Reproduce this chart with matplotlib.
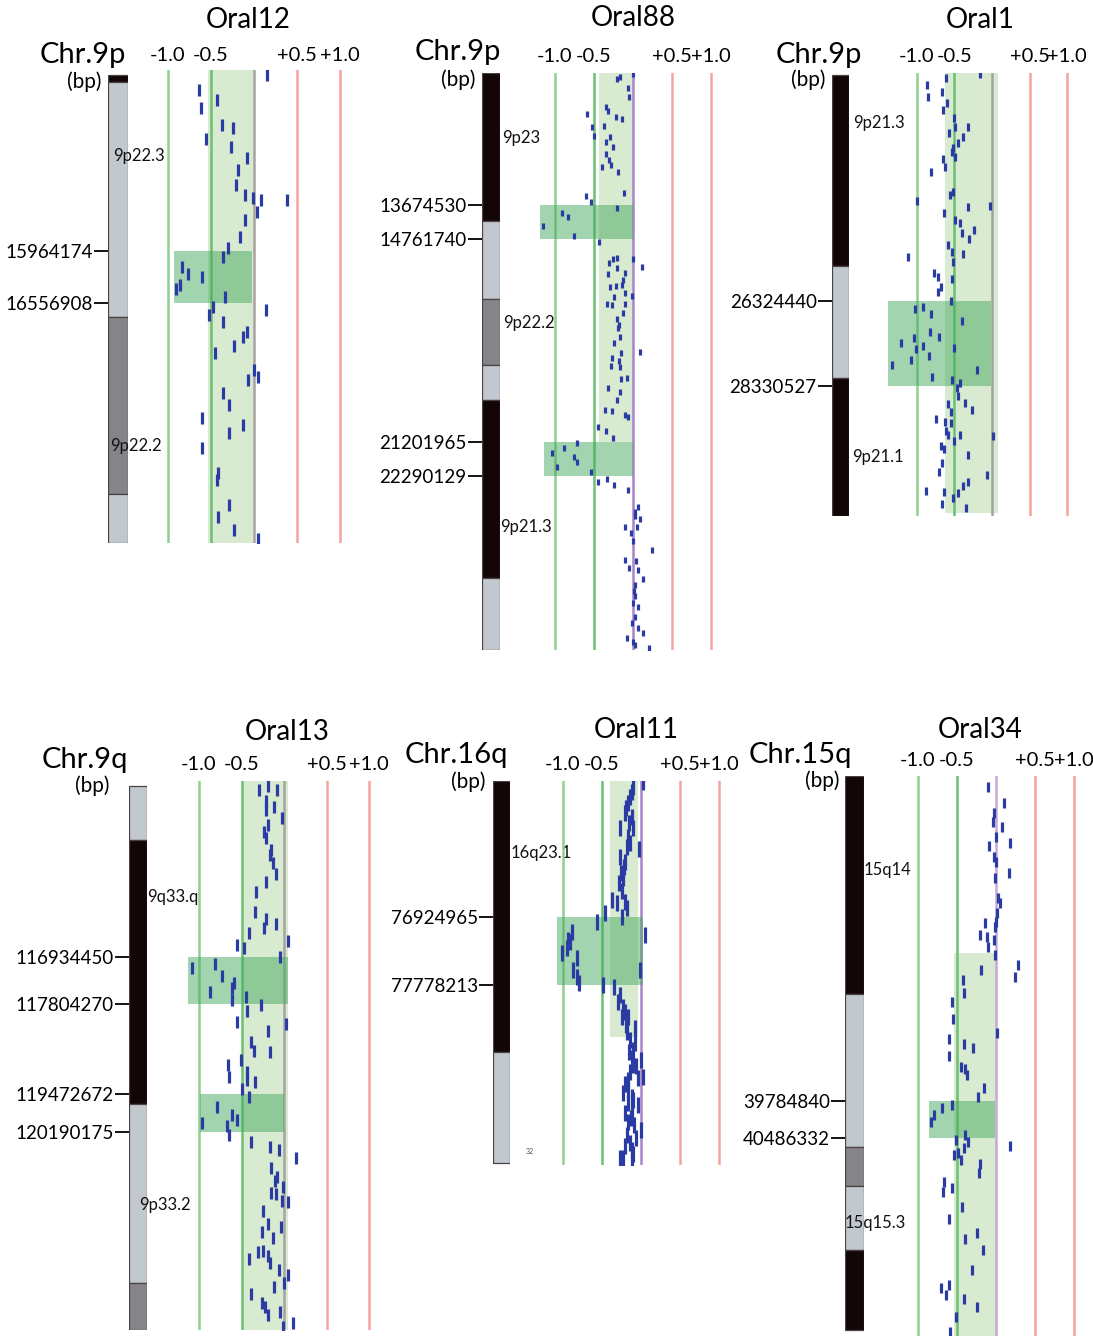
import matplotlib.pyplot as plt

plt.rcParams['font.family'] = ['Lato', 'DejaVu Sans']

W, H = 1093, 1336

# ---------------- data ----------------
# log2 ratio of each probe and its position (Mb)

oral12_ratio = [0.15, -0.64, -0.43, -0.62, -0.37, -0.24, -0.56, -0.27, -0.08, -0.19,
                -0.21, -0.10, -0.01, 0.08, 0.38, 0.03, -0.10, -0.16, -0.30, -0.36,
                -0.84, -0.77, -0.60, -0.91, -0.86, -0.34, -0.48, -0.52, 0.14, -0.36,
                -0.08, -0.13, -0.23, -0.45, 0.00, 0.05, -0.07, -0.36, -0.29, -0.60,
                -0.13, -0.29, -0.60, -0.42, -0.43, -0.29, -0.42, -0.23, 0.05]
oral12_pos = [13.96, 14.13, 14.24, 14.33, 14.53, 14.56, 14.69, 14.78, 14.90, 15.04,
              15.21, 15.33, 15.36, 15.38, 15.38, 15.52, 15.61, 15.80, 15.93, 16.03,
              16.15, 16.22, 16.26, 16.39, 16.35, 16.49, 16.60, 16.69, 16.64, 16.77,
              16.89, 16.94, 17.04, 17.12, 17.32, 17.40, 17.43, 17.58, 17.72, 17.86,
              17.95, 18.04, 18.21, 18.49, 18.57, 18.86, 18.99, 19.14, 19.24]

oral88_ratio = [0.00, -0.21, -0.17, -0.06, -0.05, -0.59, -0.35, -0.32, -0.22, -0.14,
                -0.53, -0.37, -0.50, -0.29, -0.35, -0.26, -0.35, -0.31, -0.28, -0.40,
                -0.19, -0.12, -0.60, -0.54, -0.21, -0.91, -0.83, -1.15, -0.76, -0.44,
                -0.21, -0.26, -0.31, 0.00, 0.12, -0.21, -0.32, -0.10, -0.13, -0.29,
                -0.22, -0.14, -0.10, -0.24, -0.01, -0.33, -0.27, -0.10, -0.13, -0.21,
                -0.18, -0.19, -0.17, -0.24, 0.09, -0.15, -0.27, -0.18, -0.28, -0.17,
                -0.15, -0.08, -0.32, -0.17, -0.21, -0.36, -0.27, -0.10, -0.06, -0.45,
                -0.35, -0.26, -0.72, -0.88, -1.04, -0.76, -0.72, -0.97, -0.54, -0.45,
                -0.33, -0.24, -0.06, 0.03, 0.06, 0.09, -0.10, 0.05, 0.00, 0.24,
                -0.10, -0.05, 0.06, 0.13, 0.03, 0.00, 0.06, 0.03, 0.06, 0.13,
                -0.08, 0.00, 0.21, 0.02, -0.02, 0.04, 0.01, 0.03, -0.01, 0.02]
oral88_pos = [9.51, 9.67, 9.61, 9.95, 10.24, 10.78, 10.56, 10.69, 10.88, 10.94,
              11.19, 11.16, 11.48, 11.51, 11.67, 11.83, 12.05, 12.24, 12.40, 12.47,
              12.63, 13.29, 13.39, 13.58, 13.77, 13.93, 14.06, 14.34, 14.66, 14.85,
              15.36, 15.39, 15.52, 15.39, 15.65, 15.68, 15.87, 15.84, 16.06, 16.28,
              16.25, 16.22, 16.47, 16.60, 16.57, 16.82, 16.85, 16.82, 17.11, 17.30,
              17.49, 17.58, 17.87, 18.06, 18.35, 18.38, 18.54, 18.63, 18.79, 18.82,
              19.21, 19.17, 19.49, 19.62, 19.87, 20.19, 20.22, 20.35, 20.41, 20.73,
              20.86, 21.08, 21.24, 21.40, 21.56, 21.69, 21.84, 22.00, 22.16, 22.48,
              22.39, 22.58, 22.74, 23.43, 23.28, 23.66, 23.91, 23.91, 24.36, 24.64,
              24.96, 25.21, 25.28, 25.56, 25.75, 26.33, 26.45, 26.77, 27.12, 27.28,
              27.44, 27.57, 27.76, 23.55, 24.10, 25.00, 25.95, 26.10, 26.95, 27.66]

oral1_ratio = [-0.16, -0.87, -0.61, -0.85, -0.67, -0.60, -0.65, -0.51, -0.32, -0.49,
               -0.57, -0.39, -0.45, -0.52, -0.53, -0.49, -0.65, -0.63, -0.81, -0.52,
               -0.56, -1.00, -0.03, -0.32, -0.64, -0.49, -0.43, -0.24, -0.40, -0.31,
               -0.59, -0.53, -0.39, -1.12, -0.52, -0.77, -0.72, -0.53, -0.68, -0.72,
               -0.55, -1.03, -0.92, -0.81, -0.40, -0.83, -0.71, -1.04, -1.21, -0.92,
               -1.01, -0.51, -0.84, -1.08, -1.33, -0.20, -0.80, -0.53, -0.43, -0.47,
               -0.45, -0.59, -0.36, -0.55, -0.27, -0.75, -0.63, -0.55, -0.61, -0.59,
               -0.43, 0.01, -0.51, -0.68, -0.64, -0.32, -0.67, -0.71, -0.07, -0.32,
               -0.39, -0.88, -0.64, -0.45, -0.52, -0.67, -0.35]
oral1_pos = [20.97, 21.23, 21.06, 21.51, 21.39, 21.65, 21.82, 22.01, 22.22, 22.22,
             22.36, 22.45, 22.60, 22.71, 22.81, 22.93, 22.97, 23.16, 23.28, 23.75,
             23.82, 23.96, 24.08, 24.11, 24.25, 24.41, 24.48, 24.65, 24.72, 24.86,
             25.00, 25.17, 25.22, 25.29, 25.40, 25.66, 25.76, 25.80, 25.99, 26.11,
             26.32, 26.51, 26.46, 26.63, 26.80, 27.06, 27.17, 27.20, 27.32, 27.39,
             27.46, 27.43, 27.62, 27.72, 27.84, 27.95, 28.12, 28.19, 28.26, 28.38,
             28.57, 28.76, 28.73, 28.94, 28.90, 29.11, 29.18, 29.20, 29.39, 29.49,
             29.49, 29.51, 29.63, 29.75, 29.82, 29.96, 30.15, 30.36, 30.43, 30.60,
             30.69, 30.81, 30.83, 30.86, 30.97, 31.11, 31.21]

oral13_ratio = [-0.29, -0.19, -0.08, -0.21, -0.21, -0.12, -0.02, -0.19, -0.24, -0.21,
                -0.15, -0.16, -0.13, -0.09, -0.21, -0.33, -0.34, -0.21, -0.09, -0.24,
                -0.41, 0.05, -0.55, -0.47, -0.05, -1.08, -0.81, -0.73, -0.87, -0.61,
                -0.59, -0.61, -0.45, -0.27, -0.44, -0.55, 0.02,
                -0.19, -0.39, -0.35, -0.16, -0.51, -0.66, -0.65, -0.44, -0.44, -0.34,
                -0.49, -0.41, -0.79, -0.61, -0.96, -0.55, -0.67, -0.65, -0.39, -0.16,
                -0.06, 0.14, -0.15, -0.08, -0.11, -0.01, -0.15, -0.09, -0.02, 0.05,
                -0.25, -0.19, -0.04, -0.26, -0.13, -0.31, -0.25, -0.19, -0.41, -0.16,
                -0.06, 0.05, -0.12, 0.00, -0.39, -0.26, -0.22, -0.19, -0.05, -0.01, 0.11]
oral13_pos = [113.83, 113.75, 113.83, 114.03, 114.20, 114.14, 114.35, 114.48, 114.61, 114.72,
              114.94, 115.03, 115.18, 115.39, 115.54, 115.72, 116.09, 116.22, 116.32, 116.39,
              116.49, 116.63, 116.71, 116.76, 116.93, 117.14, 117.06, 117.28, 117.58, 117.51,
              117.42, 117.73, 117.68, 117.82, 117.94, 118.14, 118.18,
              118.31, 118.51, 118.68, 118.70, 118.85, 118.94, 119.16, 119.07, 119.22, 119.26,
              119.39, 119.54, 119.72, 119.87, 120.02, 119.96, 120.07, 120.24, 120.37, 120.47,
              120.52, 120.67, 120.86, 121.02, 121.10, 121.21, 121.32, 121.34, 121.47, 121.49,
              121.66, 121.90, 121.95, 122.05, 122.16, 122.42, 122.40, 122.49, 122.55, 122.62,
              122.75, 122.85, 123.07, 123.00, 123.20, 123.37, 123.44, 123.59, 123.53, 123.81, 123.74]

oral11_ratio = [0.03, -0.10, -0.14, -0.17, -0.19, -0.12, -0.27, -0.10, -0.17, -0.14,
                -0.03, -0.27, -0.21, -0.26, -0.23, -0.28, -0.37, -0.31, -0.21, -0.18,
                -0.46, -0.56, -0.24, -0.88, -0.94, 0.05, -1.01, -0.95, -0.91, -0.82,
                -0.87, -0.82, -0.79, -0.01, -0.49, -0.35, -0.27, -0.29, -0.23, -0.21,
                -0.24, -0.17, -0.19, -0.08, -0.18, -0.14, -0.10, -0.12, 0.00, -0.10,
                -0.14, 0.03, -0.04, -0.17, -0.17, -0.23, -0.12, -0.17, -0.04, -0.21,
                -0.12, -0.17, -0.09, 0.00, -0.18, -0.14, -0.12, -0.27, -0.23, -0.12,
                -0.08, -0.15, -0.06, -0.20, -0.10, -0.13, -0.07, -0.20, -0.10,
                -0.12, -0.20, -0.15, -0.22, -0.25, -0.18]
oral11_pos = [75.23, 75.29, 75.42, 75.49, 75.56, 75.67, 75.81, 75.81, 75.92, 75.99,
              76.07, 76.17, 76.23, 76.37, 76.44, 76.50, 76.71, 76.75, 76.74, 76.81,
              76.87, 76.99, 76.93, 77.11, 77.21, 77.15, 77.38, 77.31, 77.24, 77.44,
              77.59, 77.68, 77.75, 77.59, 77.78, 77.80, 77.90, 77.99, 78.05, 78.12,
              78.18, 78.18, 78.28, 78.32, 78.37, 78.47, 78.59, 78.69, 78.72, 78.78,
              78.87, 78.93, 78.95, 78.97, 79.10, 79.13, 79.18, 79.26, 79.28, 79.38,
              79.37, 79.50, 79.53, 79.60, 79.66, 79.76, 79.85, 79.95, 79.95, 79.97,
              78.50, 78.62, 78.80, 79.02, 79.22, 79.45, 79.70, 79.80, 79.90,
              75.35, 75.62, 75.75, 76.30, 76.60, 76.05]

oral34_ratio = [-0.10, 0.10, -0.03, -0.04, 0.08, 0.00, -0.09, 0.18, -0.03, 0.00,
                0.17, -0.01, 0.03, 0.05, 0.01, 0.00, -0.14, -0.01, -0.21, -0.12,
                -0.03, -0.10, -0.01, 0.28, -0.19, 0.24, -0.42, -0.41, -0.56, -0.55,
                0.01, -0.60, -0.41, -0.29, -0.60, -0.45, -0.40, -0.37, -0.15, -0.23,
                -0.56, -0.69, -0.79, -0.83, -0.40, -0.51, -0.36, 0.18, -0.41, -0.54,
                -0.49, -0.45, -0.21, -0.22, -0.67, -0.68, -0.56, -0.44, -0.60, -0.40,
                -0.24, -0.17, -0.31, -0.71, -0.60, -0.64, -0.41, -0.24, -0.51, -0.59]
oral34_pos = [33.83, 34.14, 34.33, 34.50, 34.59, 34.78, 34.95, 34.89, 35.16, 35.25,
              35.46, 35.56, 35.94, 36.03, 36.22, 36.39, 36.41, 36.49, 36.64, 36.68,
              36.73, 36.86, 37.02, 37.21, 37.30, 37.43, 37.49, 37.74, 37.91, 38.23,
              38.50, 38.61, 38.70, 38.78, 38.93, 39.14, 39.18, 39.29, 39.54, 39.71,
              39.86, 39.92, 40.05, 40.18, 40.43, 40.52, 40.56, 40.64, 40.68, 40.81,
              40.77, 40.90, 40.98, 41.15, 41.32, 41.51, 41.43, 41.79, 42.02, 42.40,
              42.29, 42.61, 42.99, 43.33, 43.27, 43.46, 43.54, 43.69, 43.88, 44.16]

# cytobands (Mb)
oral12_band_edges = [13.96, 14.04, 16.71, 18.73, 19.29]
oral12_band_stain = ['gpos100', 'gneg', 'gpos75', 'gneg']
oral88_band_edges = [9.48, 14.18, 16.66, 18.75, 19.88, 25.53, 27.82]
oral88_band_stain = ['gpos100', 'gneg', 'gpos75', 'gneg', 'gpos100', 'gneg']
oral1_band_edges = [20.99, 25.50, 28.14, 31.40]
oral1_band_stain = ['gpos100', 'gneg', 'gpos100']
oral13_band_edges = [113.75, 114.76, 119.67, 123.00, 123.87]
oral13_band_stain = ['gneg', 'gpos100', 'gneg', 'gpos75']
oral11_band_edges = [75.22, 78.62, 80.01]
oral11_band_stain = ['gpos100', 'gneg']
oral34_band_edges = [33.62, 37.76, 40.66, 41.40, 42.61, 44.13]
oral34_band_stain = ['gpos100', 'gneg', 'gpos75', 'gneg', 'gpos100']

oral12_band_names = ['9p22.3', '9p22.2']
oral12_band_label_pos = [14.88, 18.19]
oral88_band_names = ['9p23', '9p22.2', '9p21.3']
oral88_band_label_pos = [11.54, 17.43, 23.91]
oral1_band_names = ['9p21.3', '9p21.1']
oral1_band_label_pos = [22.12, 30.01]
oral13_band_names = ['9q33.q', '9p33.2']
oral13_band_label_pos = [115.82, 121.54]
oral11_band_names = ['16q23.1']
oral11_band_label_pos = [76.12]
oral34_band_names = ['15q14', '15q15.3']
oral34_band_label_pos = [35.41, 42.10]

# breakpoints (bp), in pairs bounding the deleted region
oral12_breaks = [15964174, 16556908]
oral88_breaks = [13674530, 14761740, 21201965, 22290129]
oral1_breaks = [26324440, 28330527]
oral13_breaks = [116934450, 117804270, 119472672, 120190175]
oral11_breaks = [76924965, 77778213]
oral34_breaks = [39784840, 40486332]

# ratio span of each highlighted region
oral12_region_ratio = [(-0.93, -0.02)]
oral88_region_ratio = [(-1.28, 0.0), (-1.14, 0.0)]
oral1_region_ratio = [(-1.39, -0.01)]
oral13_region_ratio = [(-1.13, 0.05), (-0.99, 0.0)]
oral11_region_ratio = [(-1.08, 0.03)]
oral34_region_ratio = [(-0.86, -0.01)]

# shaded normal range: ratio low, ratio high, start Mb, end Mb
oral12_normal = (-0.535, 0.0, 13.90, 19.29)
oral88_normal = (-0.44, 0.0, 9.48, 21.20)
oral1_normal = (-0.63, 0.08, 20.94, 31.33)
oral13_normal = (-0.49, 0.05, 113.66, 123.87)
oral11_normal = (-0.40, -0.04, 75.22, 78.43)
oral34_normal = (-0.54, 0.0, 36.98, 44.24)

thresholds = [-1.0, -0.5, 0.0, 0.5, 1.0]
threshold_labels = ['-1.0', '-0.5', '', '+0.5', '+1.0']

panels = [
    dict(title='Oral12', chrom='Chr.9p', ratio=oral12_ratio, pos=oral12_pos,
         edges=oral12_band_edges, stain=oral12_band_stain, names=oral12_band_names,
         name_pos=oral12_band_label_pos, breaks=oral12_breaks,
         region=oral12_region_ratio, normal=oral12_normal),
    dict(title='Oral88', chrom='Chr.9p', ratio=oral88_ratio, pos=oral88_pos,
         edges=oral88_band_edges, stain=oral88_band_stain, names=oral88_band_names,
         name_pos=oral88_band_label_pos, breaks=oral88_breaks,
         region=oral88_region_ratio, normal=oral88_normal),
    dict(title='Oral1', chrom='Chr.9p', ratio=oral1_ratio, pos=oral1_pos,
         edges=oral1_band_edges, stain=oral1_band_stain, names=oral1_band_names,
         name_pos=oral1_band_label_pos, breaks=oral1_breaks,
         region=oral1_region_ratio, normal=oral1_normal),
    dict(title='Oral13', chrom='Chr.9q', ratio=oral13_ratio, pos=oral13_pos,
         edges=oral13_band_edges, stain=oral13_band_stain, names=oral13_band_names,
         name_pos=oral13_band_label_pos, breaks=oral13_breaks,
         region=oral13_region_ratio, normal=oral13_normal),
    dict(title='Oral11', chrom='Chr.16q', ratio=oral11_ratio, pos=oral11_pos,
         edges=oral11_band_edges, stain=oral11_band_stain, names=oral11_band_names,
         name_pos=oral11_band_label_pos, breaks=oral11_breaks,
         region=oral11_region_ratio, normal=oral11_normal),
    dict(title='Oral34', chrom='Chr.15q', ratio=oral34_ratio, pos=oral34_pos,
         edges=oral34_band_edges, stain=oral34_band_stain, names=oral34_band_names,
         name_pos=oral34_band_label_pos, breaks=oral34_breaks,
         region=oral34_region_ratio, normal=oral34_normal),
]

# ---------------- layout (pixels) ----------------
layout = {
    'Oral12': dict(ideo=(108, 128), data=(160, 350), rows=(70, 543), ylim=(19.29, 13.90),
                   xlim=(-1.093, 1.116), title=(248, 20), chrom=(83, 55), bp=(84, 82),
                   name_x=[0.25, 0.1], ms=9, pad=4, zero='#aaa2a2'),
    'Oral88': dict(ideo=(482, 500), data=(540, 720), rows=(73, 650), ylim=(27.82, 9.478),
                   xlim=(-1.192, 1.115), title=(633, 18), chrom=(458, 52), bp=(458, 80),
                   name_x=[1.11, 1.17, 1.0], ms=5, pad=6, zero='#a884c8'),
    'Oral1': dict(ideo=(832, 849), data=(880, 1080), rows=(73, 516), ylim=(31.40, 20.94),
                  xlim=(-1.493, 1.173), title=(980, 20), chrom=(819, 55), bp=(808, 80),
                  name_x=[1.24, 1.18], ms=6, pad=6, zero='#a8a0a0'),
    'Oral13': dict(ideo=(129, 147), data=(180, 380), rows=(781, 1330), ylim=(123.87, 113.66),
                   xlim=(-1.224, 1.129), title=(287, 732), chrom=(85, 760), bp=(92, 786),
                   name_x=[1.0, 0.56], ms=9, pad=6, zero='#aaa2a2'),
    'Oral11': dict(ideo=(493, 510), data=(545, 730), rows=(781, 1165), ylim=(80.037, 75.218),
                   xlim=(-1.231, 1.141), title=(636, 730), chrom=(456, 755), bp=(468, 782),
                   name_x=[1.06], ms=11, pad=6, zero='#a884c8'),
    'Oral34': dict(ideo=(845, 864), data=(900, 1085), rows=(776, 1336), ylim=(44.24, 33.62),
                   xlim=(-1.231, 1.141), title=(980, 730), chrom=(800, 755), bp=(822, 781),
                   name_x=[1.0, 0.0], ms=7, pad=5, zero='#c8a8d8'),
}

stain_color = {'gpos100': '#130607', 'gneg': '#c1c8ce', 'gpos75': '#858589'}
line_colors = ['#8fd08f', '#6cc070', None, '#f5a49d', '#f5a49d']

fig = plt.figure(figsize=(W / 100, H / 100), dpi=100)


def px_axes(x0, x1, y0, y1):
    return fig.add_axes([x0 / W, 1 - y1 / H, (x1 - x0) / W, (y1 - y0) / H])


def fig_text(xy, s, **kw):
    fig.text(xy[0] / W, 1 - xy[1] / H, s, ha='center', va='center', **kw)


for p in panels:
    lay = layout[p['title']]
    y0, y1 = lay['rows']

    # ideogram
    ax_i = px_axes(lay['ideo'][0], lay['ideo'][1], y0, y1)
    for s, e, st in zip(p['edges'][:-1], p['edges'][1:], p['stain']):
        ax_i.bar(0.5, e - s, bottom=s, width=1, color=stain_color[st],
                 edgecolor='#4a4242', linewidth=0.9)
    ax_i.set_xlim(0, 1)
    ax_i.set_ylim(*lay['ylim'])
    ax_i.set_yticks([b / 1e6 for b in p['breaks']])
    ax_i.set_yticklabels([str(b) for b in p['breaks']])
    ax_i.tick_params(axis='y', length=10, width=1.3, labelsize=13.5, pad=1)
    ax_i.set_xticks([])
    for sp in ax_i.spines.values():
        sp.set_visible(False)
    for name, pos, nx in zip(p['names'], p['name_pos'], lay['name_x']):
        ax_i.text(nx, pos, name, transform=ax_i.get_yaxis_transform(), fontsize=12,
                  ha='left', va='center', clip_on=False, color='#111', zorder=10)

    # ratio track
    ax = px_axes(lay['data'][0], lay['data'][1], y0, y1)
    ax.patch.set_visible(False)
    ax.set_xlim(*lay['xlim'])
    ax.set_ylim(*lay['ylim'])
    lo, hi, top, bot = p['normal']
    ax.fill_betweenx([top, bot], lo, hi, color='#d8ead0', lw=0, zorder=1)
    for t, c in zip(thresholds, line_colors):
        ax.axvline(t, color=c or lay['zero'], lw=1.8, zorder=2)
    for k, (r0, r1) in enumerate(p['region']):
        b0, b1 = p['breaks'][2 * k] / 1e6, p['breaks'][2 * k + 1] / 1e6
        ax.fill_betweenx([b0, b1], r0, r1, color='#45aa60', alpha=0.5, lw=0, zorder=3)
    ax.plot(p['ratio'], p['pos'], ls='none', marker='|', ms=lay['ms'], mew=2.3,
            color='#2a3ca4', zorder=4)
    ax.xaxis.tick_top()
    ax.set_xticks([t for t, l in zip(thresholds, threshold_labels) if l])
    ax.set_xticklabels([l for l in threshold_labels if l])
    ax.tick_params(axis='x', length=0, labelsize=14.5, pad=lay['pad'])
    ax.set_yticks([])
    for sp in ax.spines.values():
        sp.set_visible(False)

    fig_text(lay['title'], p['title'], fontsize=20)
    fig_text(lay['chrom'], p['chrom'], fontsize=21)
    fig_text(lay['bp'], '(bp)', fontsize=15)

fig_text((530, 1152), '32', fontsize=5, color='#555')

fig.savefig('out.png', dpi=100)
